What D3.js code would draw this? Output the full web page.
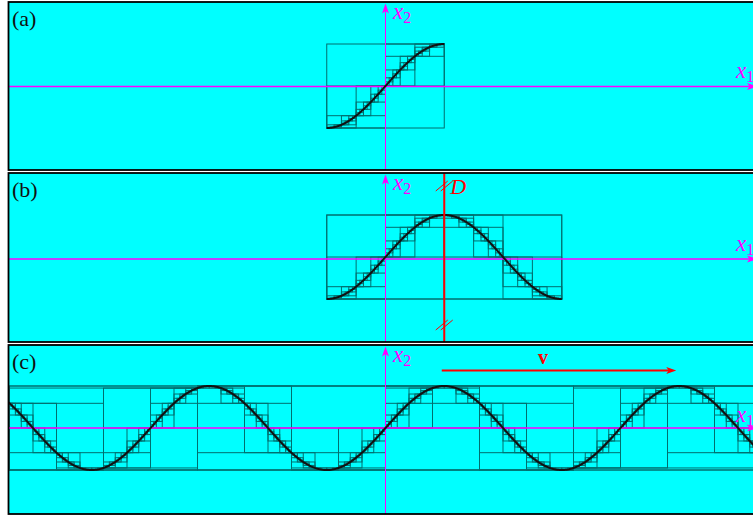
<!DOCTYPE html>
<html>
<head>
<script src="https://d3js.org/d3.v7.min.js"></script>
<style>
  body { margin: 0; background: #fff; }
  text { font-family: "Liberation Serif", "DejaVu Serif", serif; }
</style>
</head>
<body>
<svg id="chart" width="753" height="517"></svg>
<script>
// panel data
var panelLabels = ['(a)', '(b)', '(c)'];
var curveFrom = [-0.5, -0.5, -3.4];   // curve span, in units of pi
var curveTo   = [0.5, 1.5, 3.4];
var treeFrom  = [-0.5, -0.5, -3.2];   // root interval of the box tree, units of pi
var treeTo    = [0.5, 1.5, 3.2];
var treeDepth = [5, 6, 8];
var axisNames = ['x', 'x'];            // x1 (horizontal), x2 (vertical)
var axisSubs  = ['1', '2'];

// layout
var panels = [
  {top: 2,   bottom: 170, axisY: 86.5,  yTop: 44,  yBottom: 128, x1Base: 78},
  {top: 173, bottom: 342, axisY: 259,   yTop: 215, yBottom: 299, x1Base: 251},
  {top: 345, bottom: 514, axisY: 428,   yTop: 386, yBottom: 470, x1Base: 422}
];
var panelLeft = 8.5, panelRight = 775;
var cyan = '#00ffff', magenta = '#ff00ff', red = '#ff0000', boxColor = '#006f6f';

var svg = d3.select('#chart');
var x = d3.scaleLinear().domain([0, Math.PI]).range([385.5, 503]);

function bounds(a, b) {
  var lo = Math.min(Math.sin(a), Math.sin(b)), hi = Math.max(Math.sin(a), Math.sin(b));
  var k = Math.ceil((a - Math.PI / 2) / Math.PI);
  for (var c = Math.PI / 2 + k * Math.PI; c <= b; c += Math.PI) {
    lo = Math.min(lo, Math.sin(c)); hi = Math.max(hi, Math.sin(c));
  }
  return [lo, hi];
}

function buildTree(a, b, depth, out) {
  var bb = bounds(a, b);
  out.push({a: a, b: b, lo: bb[0], hi: bb[1]});
  if (depth > 0) {
    var m = (a + b) / 2;
    buildTree(a, m, depth - 1, out);
    buildTree(m, b, depth - 1, out);
  }
  return out;
}

function arrowHead(g, tx, ty, dir, color) {
  // dir: 'up' or 'right'
  var p;
  if (dir === 'up') p = [[tx, ty], [tx - 3.5, ty + 10], [tx, ty + 7.5], [tx + 3.5, ty + 10]];
  else p = [[tx, ty], [tx - 10, ty - 3.5], [tx - 7.5, ty], [tx - 10, ty + 3.5]];
  g.append('path').attr('d', 'M' + p.join('L') + 'Z').attr('fill', color);
}

panels.forEach(function(P, i) {
  var g = svg.append('g');
  var clipId = 'clip' + i;
  svg.append('clipPath').attr('id', clipId).append('rect')
    .attr('x', panelLeft).attr('y', P.top).attr('width', panelRight - panelLeft).attr('height', P.bottom - P.top);

  g.append('rect').attr('x', panelLeft).attr('y', P.top)
    .attr('width', panelRight - panelLeft).attr('height', P.bottom - P.top)
    .attr('fill', cyan);

  var inner = g.append('g').attr('clip-path', 'url(#' + clipId + ')');
  var y = d3.scaleLinear().domain([-1, 1]).range([P.yBottom, P.yTop]);

  var nodes = buildTree(treeFrom[i] * Math.PI, treeTo[i] * Math.PI, treeDepth[i], []);
  inner.selectAll('rect.box').data(nodes).enter().append('rect')
    .attr('class', 'box')
    .attr('x', function(d) { return x(d.a); })
    .attr('y', function(d) { return y(d.hi); })
    .attr('width', function(d) { return x(d.b) - x(d.a); })
    .attr('height', function(d) { return y(d.lo) - y(d.hi); })
    .attr('fill', 'none').attr('stroke', boxColor).attr('stroke-width', 1);

  // axes
  inner.append('line').attr('x1', panelLeft).attr('x2', 755).attr('y1', P.axisY).attr('y2', P.axisY)
    .attr('stroke', magenta).attr('stroke-width', 1.3);
  arrowHead(inner, 757, P.axisY, 'right', magenta);
  inner.append('line').attr('x1', x(0)).attr('x2', x(0)).attr('y1', P.bottom).attr('y2', P.top + 4)
    .attr('stroke', magenta).attr('stroke-width', 1);
  arrowHead(inner, x(0), P.top + 1.5, 'up', magenta);

  // curve
  var n = 600, a = curveFrom[i] * Math.PI, b = curveTo[i] * Math.PI;
  var pts = d3.range(n + 1).map(function(k) { return a + (b - a) * k / n; });
  inner.append('path').datum(pts)
    .attr('d', d3.line().x(function(t) { return x(t); }).y(function(t) { return y(Math.sin(t)); }))
    .attr('fill', 'none').attr('stroke', '#111').attr('stroke-width', 2);

  // labels
  var t1 = inner.append('text').attr('x', 736).attr('y', P.x1Base)
    .attr('fill', magenta).attr('font-size', 23).attr('font-style', 'italic').text(axisNames[0]);
  t1.append('tspan').attr('dy', 4).attr('font-size', 16).attr('font-style', 'normal').text(axisSubs[0]);
  var t2 = inner.append('text').attr('x', 393).attr('y', P.top + 17)
    .attr('fill', magenta).attr('font-size', 23).attr('font-style', 'italic').text(axisNames[1]);
  t2.append('tspan').attr('dy', 4).attr('font-size', 16).attr('font-style', 'normal').text(axisSubs[1]);

  g.append('text').attr('x', 12).attr('y', P.top + 24).attr('font-size', 22).attr('fill', '#111')
    .text(panelLabels[i]);

  g.append('rect').attr('x', panelLeft).attr('y', P.top)
    .attr('width', panelRight - panelLeft).attr('height', P.bottom - P.top)
    .attr('fill', 'none').attr('stroke', '#000').attr('stroke-width', 1.8);

  P.g = inner; P.y = y;
});

// symmetry axis D in panel (b)
var pb = panels[1];
var dx = x(Math.PI / 2);
pb.g.append('line').attr('x1', dx).attr('x2', dx).attr('y1', pb.top).attr('y2', pb.bottom)
  .attr('stroke', red).attr('stroke-width', 2);
[pb.top + 13, pb.bottom - 17].forEach(function(cy) {
  [-2.5, 2.5].forEach(function(o) {
    pb.g.append('line').attr('x1', dx - 6 + o).attr('y1', cy + 5).attr('x2', dx + 6 + o).attr('y2', cy - 5)
      .attr('stroke', red).attr('stroke-width', 1);
  });
});
pb.g.append('text').attr('x', dx + 6).attr('y', pb.top + 21).attr('fill', red)
  .attr('font-size', 22).attr('font-style', 'italic').text('D');

// translation arrow v in panel (c)
var pc = panels[2];
var v0 = x(Math.PI / 2) - 2.5, v1 = x(Math.PI / 2 + 2 * Math.PI) - 3;
pc.g.append('line').attr('x1', v0).attr('x2', v1 - 6).attr('y1', 370.5).attr('y2', 370.5)
  .attr('stroke', red).attr('stroke-width', 2);
arrowHead(pc.g, v1, 370.5, 'right', red);
pc.g.append('text').attr('x', (v0 + v1) / 2 - 21).attr('y', 364).attr('fill', red)
  .attr('font-size', 20).attr('font-weight', 'bold').text('v');
</script>
</body>
</html>
